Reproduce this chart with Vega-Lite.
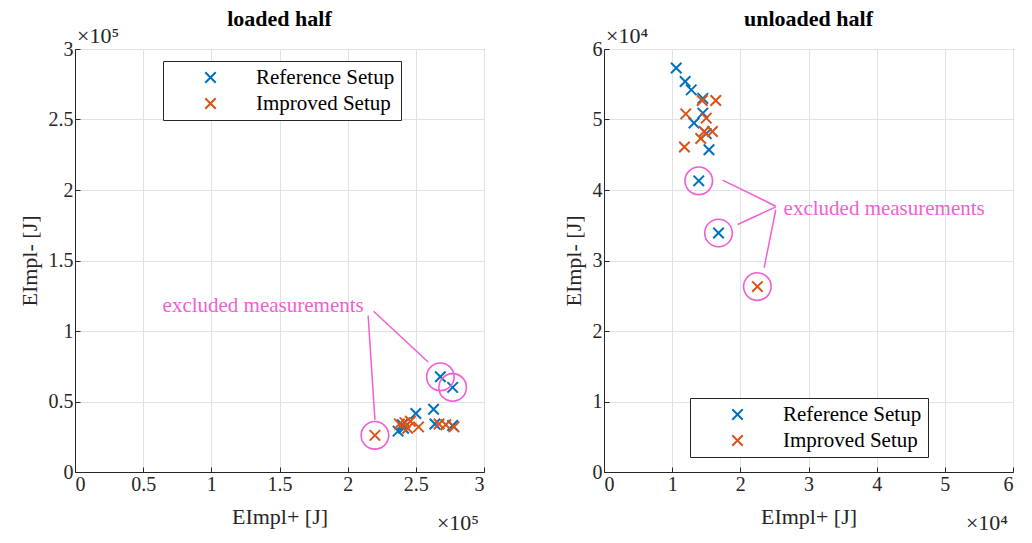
{
  "$schema": "https://vega.github.io/schema/vega-lite/v6.json",
  "background": "white",
  "padding": {"left": 17, "top": 7, "right": 5, "bottom": 5},
  "bounds": "flush",
  "spacing": 120,
  "datasets": {
    "loaded": [
      {"setup": "Reference Setup", "x": 2.68, "y": 0.675},
      {"setup": "Reference Setup", "x": 2.77, "y": 0.60},
      {"setup": "Reference Setup", "x": 2.50, "y": 0.415},
      {"setup": "Reference Setup", "x": 2.63, "y": 0.445},
      {"setup": "Reference Setup", "x": 2.37, "y": 0.29},
      {"setup": "Reference Setup", "x": 2.41, "y": 0.31},
      {"setup": "Reference Setup", "x": 2.40, "y": 0.335},
      {"setup": "Reference Setup", "x": 2.64, "y": 0.34},
      {"setup": "Reference Setup", "x": 2.77, "y": 0.33},
      {"setup": "Improved Setup", "x": 2.20, "y": 0.26},
      {"setup": "Improved Setup", "x": 2.42, "y": 0.35},
      {"setup": "Improved Setup", "x": 2.46, "y": 0.36},
      {"setup": "Improved Setup", "x": 2.52, "y": 0.32},
      {"setup": "Improved Setup", "x": 2.44, "y": 0.31},
      {"setup": "Improved Setup", "x": 2.38, "y": 0.34},
      {"setup": "Improved Setup", "x": 2.67, "y": 0.34},
      {"setup": "Improved Setup", "x": 2.72, "y": 0.335},
      {"setup": "Improved Setup", "x": 2.78, "y": 0.32}
    ],
    "loaded_excl": [
      {"x": 2.68, "y": 0.675},
      {"x": 2.77, "y": 0.60},
      {"x": 2.20, "y": 0.26}
    ],
    "loaded_lines": [
      {"x": 2.15, "y": 1.11, "x2": 2.20, "y2": 0.37},
      {"x": 2.19, "y": 1.14, "x2": 2.59, "y2": 0.78}
    ],
    "loaded_label": [
      {"x": 1.38, "y": 1.18, "label": "excluded measurements"}
    ],
    "unloaded": [
      {"setup": "Reference Setup", "x": 1.06, "y": 5.73},
      {"setup": "Reference Setup", "x": 1.19, "y": 5.54},
      {"setup": "Reference Setup", "x": 1.28, "y": 5.42},
      {"setup": "Reference Setup", "x": 1.45, "y": 5.30},
      {"setup": "Reference Setup", "x": 1.45, "y": 5.09},
      {"setup": "Reference Setup", "x": 1.32, "y": 4.95},
      {"setup": "Reference Setup", "x": 1.50, "y": 4.80},
      {"setup": "Reference Setup", "x": 1.54, "y": 4.57},
      {"setup": "Reference Setup", "x": 1.39, "y": 4.13},
      {"setup": "Reference Setup", "x": 1.68, "y": 3.39},
      {"setup": "Improved Setup", "x": 1.44, "y": 5.27},
      {"setup": "Improved Setup", "x": 1.64, "y": 5.27},
      {"setup": "Improved Setup", "x": 1.20, "y": 5.08},
      {"setup": "Improved Setup", "x": 1.50, "y": 5.02},
      {"setup": "Improved Setup", "x": 1.47, "y": 4.83},
      {"setup": "Improved Setup", "x": 1.59, "y": 4.83},
      {"setup": "Improved Setup", "x": 1.42, "y": 4.73},
      {"setup": "Improved Setup", "x": 1.18, "y": 4.61},
      {"setup": "Improved Setup", "x": 2.25, "y": 2.63}
    ],
    "unloaded_excl": [
      {"x": 1.39, "y": 4.13},
      {"x": 1.68, "y": 3.39},
      {"x": 2.25, "y": 2.63}
    ],
    "unloaded_lines": [
      {"x": 1.74, "y": 4.14, "x2": 2.52, "y2": 3.77},
      {"x": 1.96, "y": 3.51, "x2": 2.52, "y2": 3.76},
      {"x": 2.35, "y": 2.90, "x2": 2.52, "y2": 3.72}
    ],
    "unloaded_label": [
      {"x": 4.11, "y": 3.73, "label": "excluded measurements"}
    ],
    "exp5": [{"label": "×10⁵"}],
    "exp4": [{"label": "×10⁴"}]
  },
  "hconcat": [
    {
      "width": 409,
      "height": 423,
      "title": {"text": "loaded half"},
      "layer": [
        {
          "data": {"name": "loaded"},
          "mark": {"type": "point", "shape": "M-1,-1L1,1M1,-1L-1,1", "filled": false, "size": 110, "strokeWidth": 2, "opacity": 1},
          "encoding": {
            "x": {"field": "x", "type": "quantitative", "scale": {"domain": [0, 3], "nice": false, "zero": false},
              "axis": {"values": [0, 0.5, 1, 1.5, 2, 2.5, 3], "format": "~g", "title": "EImpl+ [J]"}},
            "y": {"field": "y", "type": "quantitative", "scale": {"domain": [0, 3], "nice": false, "zero": false},
              "axis": {"values": [0, 0.5, 1, 1.5, 2, 2.5, 3], "format": "~g", "title": "EImpl- [J]"}},
            "color": {"field": "setup", "type": "nominal",
              "scale": {"domain": ["Reference Setup", "Improved Setup"], "range": ["#0072BD", "#D95319"]},
              "legend": {"title": null, "orient": "none", "legendX": 88, "legendY": 12}}
          }
        },
        {
          "data": {"name": "loaded_excl"},
          "mark": {"type": "point", "shape": "circle", "filled": false, "size": 760, "strokeWidth": 1.6, "color": "#f25ed4", "opacity": 1},
          "encoding": {
            "x": {"field": "x", "type": "quantitative"},
            "y": {"field": "y", "type": "quantitative"}
          }
        },
        {
          "data": {"name": "loaded_lines"},
          "mark": {"type": "rule", "color": "#f25ed4", "strokeWidth": 1.5},
          "encoding": {
            "x": {"field": "x", "type": "quantitative"},
            "y": {"field": "y", "type": "quantitative"},
            "x2": {"field": "x2"},
            "y2": {"field": "y2"}
          }
        },
        {
          "data": {"name": "loaded_label"},
          "mark": {"type": "text", "color": "#f25ed4", "fontSize": 21, "font": "Liberation Serif, Times New Roman, serif", "align": "center", "baseline": "middle"},
          "encoding": {
            "x": {"field": "x", "type": "quantitative"},
            "y": {"field": "y", "type": "quantitative"},
            "text": {"field": "label"}
          }
        },
        {
          "data": {"name": "exp5"},
          "mark": {"type": "text", "color": "#262626", "fontSize": 22, "font": "Liberation Serif, Times New Roman, serif", "align": "left", "baseline": "bottom", "dx": 2, "dy": -1},
          "encoding": {
            "x": {"datum": 0, "type": "quantitative"},
            "y": {"datum": 3, "type": "quantitative"},
            "text": {"field": "label"}
          }
        },
        {
          "data": {"name": "exp5"},
          "mark": {"type": "text", "color": "#262626", "fontSize": 22, "font": "Liberation Serif, Times New Roman, serif", "align": "right", "baseline": "middle", "dx": -5, "dy": 51},
          "encoding": {
            "x": {"datum": 3, "type": "quantitative"},
            "y": {"datum": 0, "type": "quantitative"},
            "text": {"field": "label"}
          }
        }
      ]
    },
    {
      "width": 409,
      "height": 423,
      "title": {"text": "unloaded half"},
      "layer": [
        {
          "data": {"name": "unloaded"},
          "mark": {"type": "point", "shape": "M-1,-1L1,1M1,-1L-1,1", "filled": false, "size": 110, "strokeWidth": 2, "opacity": 1},
          "encoding": {
            "x": {"field": "x", "type": "quantitative", "scale": {"domain": [0, 6], "nice": false, "zero": false},
              "axis": {"values": [0, 1, 2, 3, 4, 5, 6], "format": "~g", "title": "EImpl+ [J]"}},
            "y": {"field": "y", "type": "quantitative", "scale": {"domain": [0, 6], "nice": false, "zero": false},
              "axis": {"values": [0, 1, 2, 3, 4, 5, 6], "format": "~g", "title": "EImpl- [J]"}},
            "color": {"field": "setup", "type": "nominal",
              "scale": {"domain": ["Reference Setup", "Improved Setup"], "range": ["#0072BD", "#D95319"]},
              "legend": {"title": null, "orient": "none", "legendX": 86, "legendY": 349}}
          }
        },
        {
          "data": {"name": "unloaded_excl"},
          "mark": {"type": "point", "shape": "circle", "filled": false, "size": 760, "strokeWidth": 1.6, "color": "#f25ed4", "opacity": 1},
          "encoding": {
            "x": {"field": "x", "type": "quantitative"},
            "y": {"field": "y", "type": "quantitative"}
          }
        },
        {
          "data": {"name": "unloaded_lines"},
          "mark": {"type": "rule", "color": "#f25ed4", "strokeWidth": 1.5},
          "encoding": {
            "x": {"field": "x", "type": "quantitative"},
            "y": {"field": "y", "type": "quantitative"},
            "x2": {"field": "x2"},
            "y2": {"field": "y2"}
          }
        },
        {
          "data": {"name": "unloaded_label"},
          "mark": {"type": "text", "color": "#f25ed4", "fontSize": 21, "font": "Liberation Serif, Times New Roman, serif", "align": "center", "baseline": "middle"},
          "encoding": {
            "x": {"field": "x", "type": "quantitative"},
            "y": {"field": "y", "type": "quantitative"},
            "text": {"field": "label"}
          }
        },
        {
          "data": {"name": "exp4"},
          "mark": {"type": "text", "color": "#262626", "fontSize": 22, "font": "Liberation Serif, Times New Roman, serif", "align": "left", "baseline": "bottom", "dx": 2, "dy": -1},
          "encoding": {
            "x": {"datum": 0, "type": "quantitative"},
            "y": {"datum": 6, "type": "quantitative"},
            "text": {"field": "label"}
          }
        },
        {
          "data": {"name": "exp4"},
          "mark": {"type": "text", "color": "#262626", "fontSize": 22, "font": "Liberation Serif, Times New Roman, serif", "align": "right", "baseline": "middle", "dx": -5, "dy": 51},
          "encoding": {
            "x": {"datum": 6, "type": "quantitative"},
            "y": {"datum": 0, "type": "quantitative"},
            "text": {"field": "label"}
          }
        }
      ]
    }
  ],
  "resolve": {"scale": {"color": "independent"}, "legend": {"color": "independent"}},
  "config": {
    "font": "Liberation Serif, Times New Roman, serif",
    "view": {"stroke": "#262626", "strokeWidth": 1},
    "axis": {
      "labelFont": "Liberation Serif, Times New Roman, serif", "labelFontSize": 20, "labelColor": "#262626",
      "titleFont": "Liberation Serif, Times New Roman, serif", "titleFontSize": 22, "titleFontWeight": "normal", "titleColor": "#262626",
      "gridColor": "#e2e2e2", "gridWidth": 1,
      "domainColor": "#262626", "tickColor": "#262626", "tickSize": -5,
      "labelPadding": 7
    },
    "axisX": {"titlePadding": 12},
    "axisY": {"titlePadding": 7},
    "legend": {
      "labelFont": "Liberation Serif, Times New Roman, serif", "labelFontSize": 21, "labelColor": "#000000",
      "symbolType": "M-1,-1L1,1M1,-1L-1,1", "symbolSize": 110, "symbolStrokeWidth": 2,
      "strokeColor": "#262626", "fillColor": "white", "padding": 6,
      "symbolOffset": 31, "labelOffset": 35, "rowPadding": 4
    },
    "title": {"font": "Liberation Serif, Times New Roman, serif", "fontSize": 22, "fontWeight": "bold", "color": "#000000", "offset": -6}
  }
}
